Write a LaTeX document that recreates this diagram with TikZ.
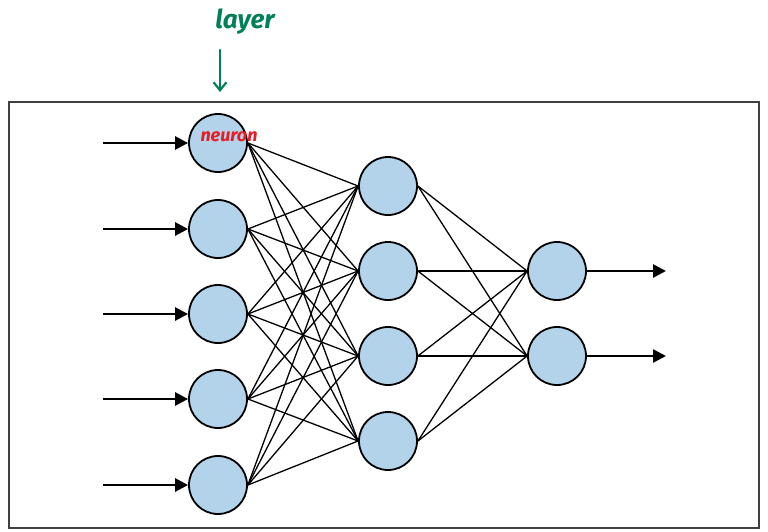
\documentclass[tikz,border=0pt]{standalone}
\usepackage{fontspec}
\newfontfamily\handfont{Fira Sans}
\usetikzlibrary{arrows.meta}
\definecolor{neufill}{RGB}{178,211,234}
\definecolor{hgreen}{RGB}{0,128,84}
\definecolor{hred}{RGB}{232,28,36}
\begin{document}
\begin{tikzpicture}[x=1pt,y=-1pt,
  neuron/.style={circle,draw=black,line width=1.8pt,fill=neufill,minimum size=58pt,inner sep=0pt},
  conn/.style={line width=1.3pt},
  io/.style={line width=2.6pt,-{Triangle[length=13pt,width=13pt]}}]
\useasboundingbox (0,0) rectangle (768,532);
\draw[line width=1.4pt,draw=black!75] (9,102) rectangle (759,528);
% layer 1
\foreach \i/\y in {1/143,2/229,3/314,4/399,5/485}{
  \node[neuron] (a\i) at (218,\y) {};
  \coordinate (in\i) at (103,\y);
  \draw[io] (in\i) -- (a\i.west);
}
% layer 2
\foreach \j/\y in {1/186,2/271,3/356,4/441}{
  \node[neuron] (b\j) at (388,\y) {};
}
% layer 3
\foreach \k/\y in {1/271,2/356}{
  \node[neuron] (c\k) at (557,\y) {};
  \coordinate (out\k) at (666,\y);
  \draw[io] (c\k.east) -- (out\k);
}
\foreach \i in {1,...,5}{\foreach \j in {1,...,4}{
  \draw[conn] (a\i.east) -- (b\j.west);}}
\foreach \j in {1,...,4}{\foreach \k in {1,2}{
  \draw[conn] (b\j.east) -- (c\k.west);}}
% annotations
\node[text=hred,font=\handfont\bfseries\itshape\fontsize{18}{20}\selectfont,inner sep=0pt] (lab) at (229,137) {neuron};
\node[text=hgreen,font=\handfont\bfseries\itshape\fontsize{26}{28}\selectfont,inner sep=0pt] (lay) at (245,22) {layer};
\coordinate (ar1) at (220,50);
\coordinate (ar2) at (220,92);
\draw[hgreen,line width=2.2pt,line cap=round,-{Straight Barb[length=8pt,width=13pt]}] (ar1) -- (ar2);
\end{tikzpicture}
\end{document}
